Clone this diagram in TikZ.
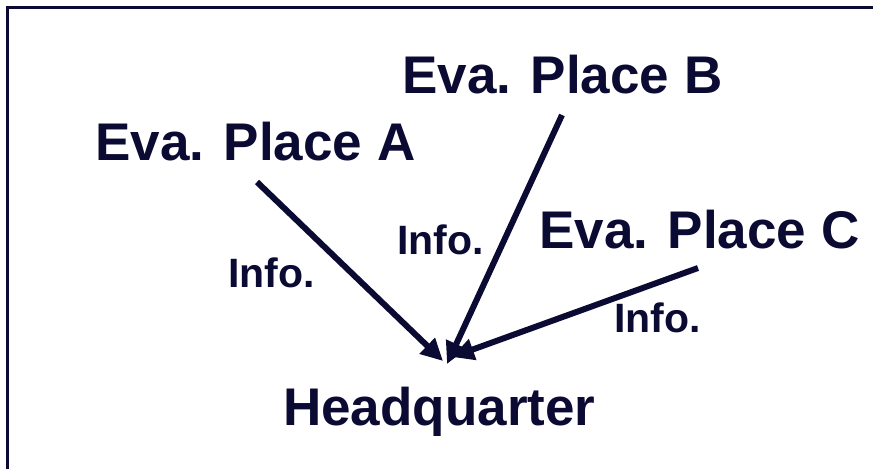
\documentclass[tikz,border=0pt]{standalone}
\usepackage{fontspec}
\setmainfont{Liberation Sans}
\usetikzlibrary{arrows.meta}
\definecolor{ink}{RGB}{10,10,50}
\begin{document}
\begin{tikzpicture}[x=1pt,y=-1pt,
  place/.style={anchor=base west,inner sep=0pt,text=ink,font=\fontsize{53}{60}\selectfont\bfseries},
  info/.style={anchor=base west,inner sep=0pt,text=ink,font=\fontsize{41}{48}\selectfont\bfseries},
  flow/.style={draw=ink,line width=6pt,-{Triangle[length=22pt,width=21pt]}}]
\useasboundingbox (0,0) rectangle (873,469);
% frame: top and left edges
\draw[ink,line width=3pt] (7,469) -- (7,7) -- (873,7);
% places
\node[place] (pa) at (95,160) {Eva. Place A};
\node[place] (pb) at (402,93) {Eva. Place B};
\node[place] (pc) at (539,248) {Eva. Place C};
\node[place] (hq) at (283,425) {Headquarter};
% info labels
\node[info] (ia) at (228,287) {Info.};
\node[info] (ib) at (397,254) {Info.};
\node[info] (ic) at (614,332) {Info.};
% arrow ends
\coordinate (sa) at (257,182);
\coordinate (sb) at (562,115);
\coordinate (sc) at (698,268);
\coordinate (ta) at (443,361);
\coordinate (tb) at (447,364);
\coordinate (tc) at (452,357);
\draw[flow] (sa) -- (ta);
\draw[flow] (sb) -- (tb);
\draw[flow] (sc) -- (tc);
\end{tikzpicture}
\end{document}
